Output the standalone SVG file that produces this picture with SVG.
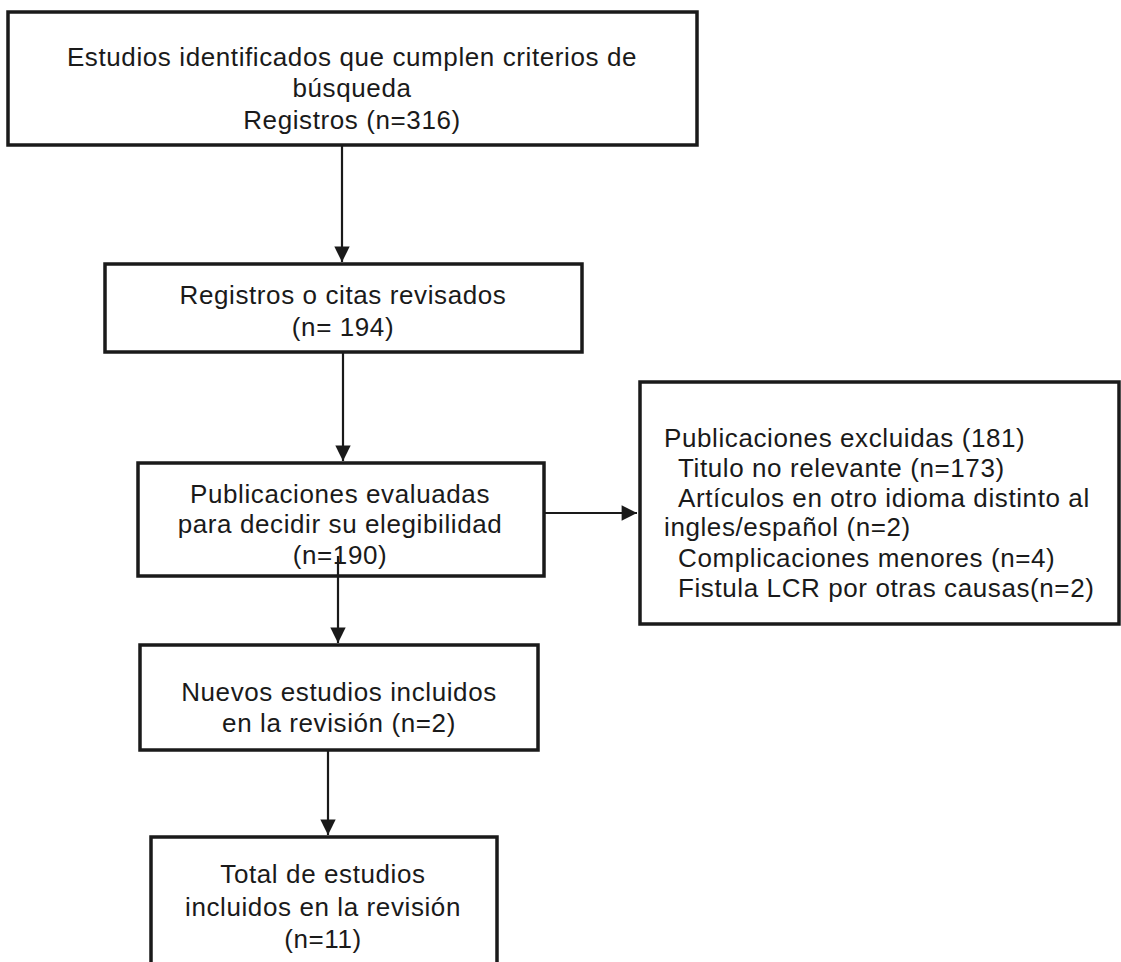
<svg xmlns="http://www.w3.org/2000/svg" width="1121" height="962" viewBox="0 0 1121 962">
<style>
.box{fill:#fff;stroke:#1a1a1a;stroke-width:3.5}
.t{font-family:"Liberation Sans",Arial,sans-serif;font-size:26px;letter-spacing:0.6px;fill:#1a1a1a;text-anchor:middle}
.l{font-family:"Liberation Sans",Arial,sans-serif;font-size:26px;letter-spacing:0.6px;fill:#1a1a1a}
.c{stroke:#1a1a1a;stroke-width:2.2;fill:none}
</style>
<defs>
<marker id="ah" viewBox="0 0 10 10" refX="10" refY="5" markerWidth="7.5" markerHeight="7" markerUnits="strokeWidth" orient="auto">
<path d="M0,0 L10,5 L0,10 z" fill="#1a1a1a"/>
</marker>
</defs>
<rect width="1121" height="962" fill="#fff"/>
<g id="n1">
<rect class="box" x="8" y="12" width="689" height="133"/>
<text class="t" x="352" y="66">Estudios identificados que cumplen criterios de</text>
<text class="t" x="352" y="97">búsqueda</text>
<text class="t" x="352" y="129">Registros (n=316)</text>
</g>
<g id="n2">
<rect class="box" x="105" y="264" width="477" height="88"/>
<text class="t" x="343" y="304">Registros o citas revisados</text>
<text class="t" x="343" y="336">(n= 194)</text>
</g>
<g id="n3">
<rect class="box" x="138" y="463" width="406" height="113"/>
<text class="t" x="340" y="503">Publicaciones evaluadas</text>
<text class="t" x="340" y="533">para decidir su elegibilidad</text>
<text class="t" x="340" y="564">(n=190)</text>
</g>
<g id="n4">
<rect class="box" x="640" y="382" width="479" height="242"/>
<text class="l" x="664" y="447">Publicaciones excluidas (181)</text>
<text class="l" x="678" y="477">Titulo no relevante (n=173)</text>
<text class="l" x="678" y="507">Artículos en otro idioma distinto al</text>
<text class="l" x="664" y="536">ingles/español (n=2)</text>
<text class="l" x="678" y="567">Complicaciones menores (n=4)</text>
<text class="l" x="678" y="597">Fistula LCR por otras causas(n=2)</text>
</g>
<g id="n5">
<rect class="box" x="140" y="645" width="398" height="105"/>
<text class="t" x="339" y="701">Nuevos estudios incluidos</text>
<text class="t" x="339" y="732">en la revisión (n=2)</text>
</g>
<g id="n6">
<path class="box" d="M151,970 L151,837 L497,837 L497,970"/>
<text class="t" x="323" y="883">Total de estudios</text>
<text class="t" x="323" y="916">incluidos en la revisión</text>
<text class="t" x="323" y="948">(n=11)</text>
</g>
<g id="connectors">
<line class="c" x1="342" y1="145" x2="342" y2="262" marker-end="url(#ah)"/>
<line class="c" x1="343" y1="352" x2="343" y2="461" marker-end="url(#ah)"/>
<line class="c" x1="544" y1="513" x2="637" y2="513" marker-end="url(#ah)"/>
<line class="c" x1="338" y1="556" x2="338" y2="643" marker-end="url(#ah)"/>
<line class="c" x1="328" y1="750" x2="328" y2="835" marker-end="url(#ah)"/>
</g>
</svg>
